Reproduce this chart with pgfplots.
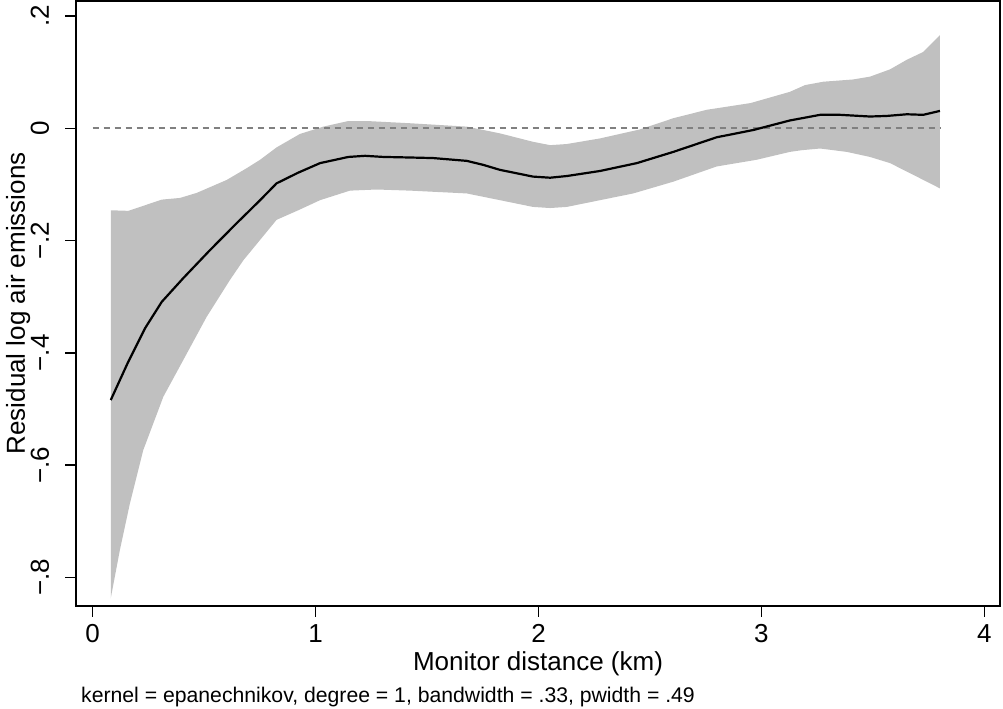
\documentclass[border=0pt]{standalone}
\usepackage{pgfplots}
\pgfplotsset{compat=1.18}
\usepackage{pgfplotstable}
\usepgfplotslibrary{fillbetween}
\usepackage{fontspec}
\setmainfont{Liberation Sans}
\definecolor{bandgray}{RGB}{192,192,192}
\definecolor{refgray}{RGB}{128,128,128}

\pgfplotstableread{
x y
0.081 -0.484
0.157 -0.418
0.235 -0.356
0.310 -0.309
0.406 -0.267
0.526 -0.217
0.646 -0.169
0.751 -0.128
0.825 -0.098
0.922 -0.079
1.020 -0.062
1.147 -0.051
1.222 -0.049
1.304 -0.051
1.424 -0.052
1.527 -0.053
1.678 -0.058
1.751 -0.065
1.827 -0.074
1.975 -0.086
2.052 -0.088
2.127 -0.085
2.276 -0.076
2.441 -0.062
2.605 -0.042
2.799 -0.016
2.964 -0.003
3.128 0.014
3.196 0.019
3.263 0.024
3.353 0.024
3.487 0.021
3.562 0.022
3.652 0.025
3.726 0.024
3.801 0.031
}\meanline

\pgfplotstableread{
x y
0.081 -0.146
0.160 -0.147
0.310 -0.127
0.392 -0.124
0.467 -0.115
0.601 -0.092
0.691 -0.071
0.751 -0.056
0.825 -0.034
0.930 -0.010
1.035 0.003
1.147 0.013
1.229 0.013
1.424 0.009
1.678 0.003
1.827 -0.009
1.975 -0.024
2.052 -0.030
2.127 -0.028
2.276 -0.018
2.455 -0.002
2.605 0.018
2.755 0.033
2.952 0.045
3.128 0.065
3.196 0.077
3.278 0.083
3.412 0.087
3.487 0.092
3.577 0.105
3.652 0.122
3.726 0.136
3.801 0.166
}\upperband

\pgfplotstableread{
x y
0.081 -0.837
0.122 -0.751
0.167 -0.668
0.227 -0.573
0.317 -0.478
0.406 -0.413
0.511 -0.336
0.616 -0.270
0.676 -0.235
0.825 -0.163
0.922 -0.146
1.020 -0.128
1.154 -0.111
1.274 -0.109
1.424 -0.111
1.678 -0.116
1.827 -0.128
1.975 -0.140
2.052 -0.142
2.127 -0.140
2.276 -0.128
2.425 -0.116
2.605 -0.095
2.799 -0.068
2.979 -0.056
3.128 -0.042
3.181 -0.039
3.263 -0.036
3.383 -0.042
3.487 -0.051
3.577 -0.062
3.667 -0.080
3.801 -0.107
}\lowerband

\pgfplotstableread{
x y
0 0
3.801 0
}\refline

\begin{document}
\begin{tikzpicture}
\begin{axis}[
  scale only axis,
  width=924pt, height=605.2pt,
  xmin=-0.0749, xmax=4.0704,
  ymin=-0.8508, ymax=0.2271,
  axis line style={line width=1.6pt, black},
  every tick/.style={line width=1.6pt, black},
  major tick length=10.5pt,
  tick align=outside,
  xtick={0,1,2,3,4}, xticklabels={0,1,2,3,4},
  ytick={-0.8,-0.6,-0.4,-0.2,0,0.2},
  yticklabels={−.8,−.6,−.4,−.2,0,.2},
  xtick pos=bottom, ytick pos=left,
  minor tick num=0,
  ticklabel style={font=\fontsize{26}{30}\selectfont},
  xticklabel style={anchor=base, yshift=-25.5pt},
  yticklabel style={rotate=90, anchor=base, yshift=16.7pt},
  xlabel={Monitor distance (km)},
  ylabel={Residual log air emissions},
  label style={font=\fontsize{26}{30}\selectfont},
  xlabel style={at={(axis description cs:0.5,0)}, anchor=base, yshift=-64pt},
  ylabel style={at={(axis description cs:0,0.5)}, anchor=base, yshift=51pt},
  clip=false,
]
\addplot[name path=up, draw=none, forget plot] table[x=x,y=y]{\upperband};
\addplot[name path=lo, draw=none, forget plot] table[x=x,y=y]{\lowerband};
\addplot[fill=bandgray, draw=none, forget plot] fill between[of=up and lo];
\addplot[refgray, line width=2pt, dash pattern=on 6pt off 5pt] table[x=x,y=y]{\refline};
\addplot[black, line width=2.2pt, line join=round] table[x=x,y=y]{\meanline};
\node[anchor=base west, font=\fontsize{21.2}{25}\selectfont, inner sep=0pt]
  at ([xshift=5pt, yshift=-96.7pt]rel axis cs:0,0)
  {kernel = epanechnikov, degree = 1, bandwidth = .33, pwidth = .49};
\coordinate (sw) at (rel axis cs:0,0);
\coordinate (ne) at (rel axis cs:1,1);
\end{axis}
\pgfresetboundingbox
\path ([shift={(-76pt,-102pt)}]sw) rectangle ([shift={(3pt,0.8pt)}]ne);
\end{tikzpicture}
\end{document}
